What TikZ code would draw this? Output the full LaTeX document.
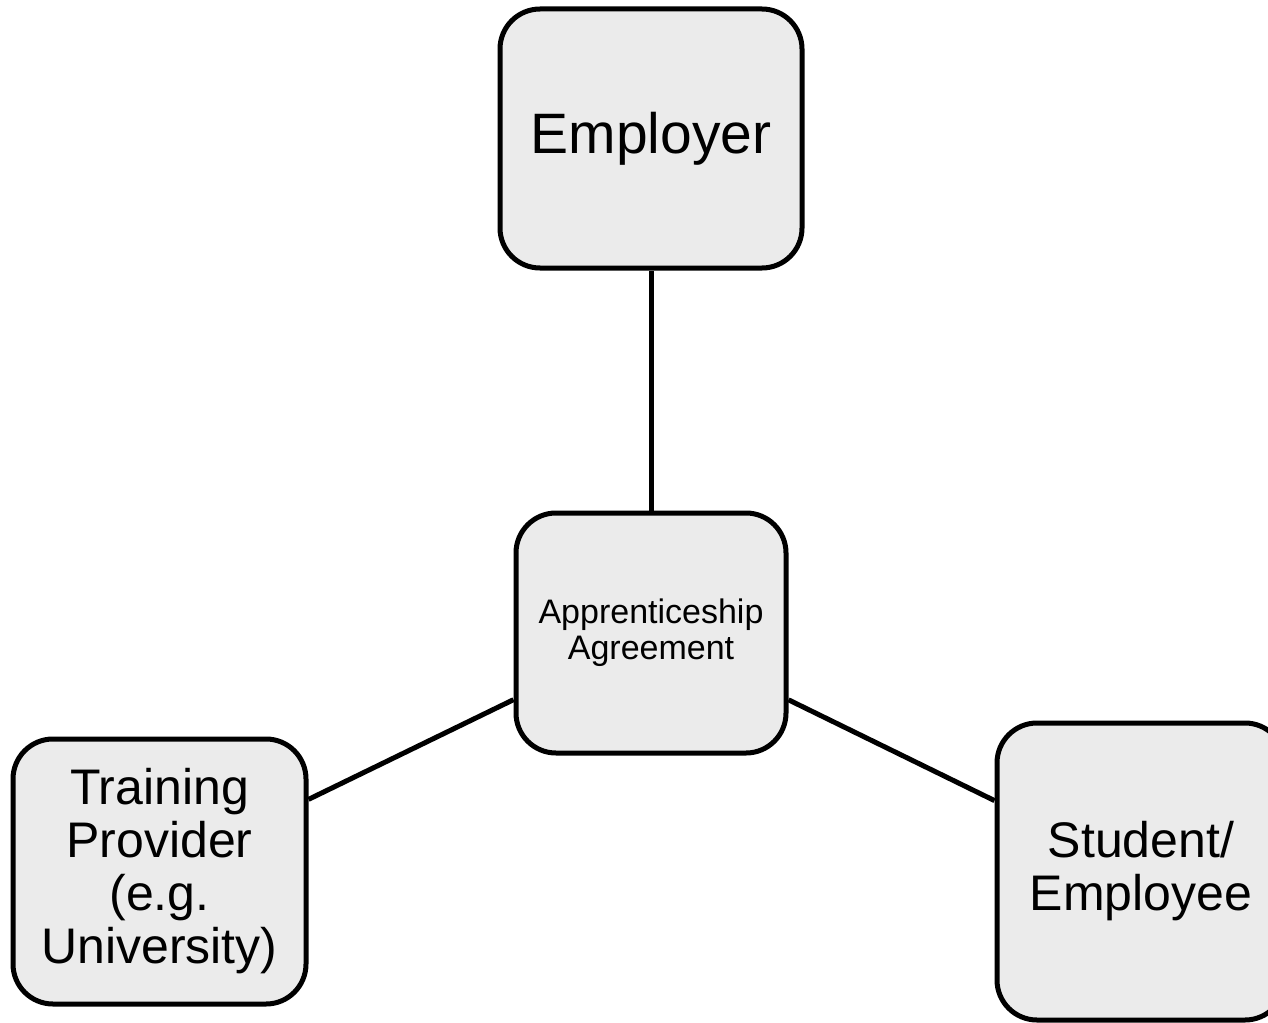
\documentclass[tikz,border=0pt]{standalone}
\usepackage{fontspec}
\setmainfont{Liberation Sans}
\definecolor{boxfill}{HTML}{EBEBEB}
\begin{document}
\begin{tikzpicture}[x=1pt,y=-1pt,
  party/.style={draw=black, line width=5pt, fill=boxfill, rounded corners=40pt,
    align=center, inner sep=0pt},
  link/.style={line width=5pt, draw=black}]
\useasboundingbox (0,0) rectangle (1268,1022);
\clip (0,0) rectangle (1268,1022);
\node[party, minimum width=302pt, minimum height=259pt, font=\fontsize{57}{62}\selectfont] (emp) at (651,138.5) {Employer};
\node[party, minimum width=270pt, minimum height=240pt, font=\fontsize{34}{36}\selectfont] (agr) at (651,633) {Apprenticeship\\Agreement};
\node[party, minimum width=293pt, minimum height=265pt, font=\fontsize{50}{53}\selectfont] (tp) at (159.5,871.5) {Training\\Provider\\(e.g.\\University)};
\node[party, minimum width=288pt, minimum height=297pt, font=\fontsize{50}{53}\selectfont] (st) at (1141,871.5) {Student/\\Employee};
\draw[link] (agr) -- (emp);
\draw[link] (agr) -- (tp);
\draw[link] (agr) -- (st);
\end{tikzpicture}
\end{document}
